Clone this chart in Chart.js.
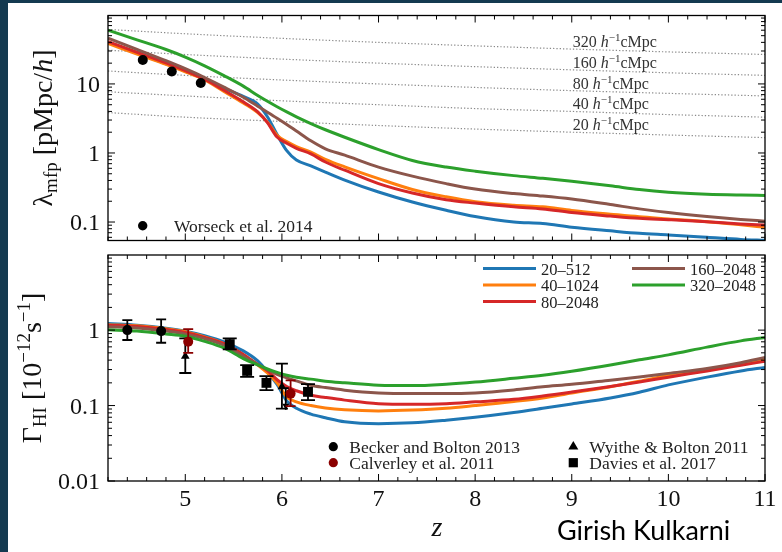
<!DOCTYPE html>
<html lang="pt-BR">
<head>
<meta charset="utf-8">
<title>Livre caminho médio e taxa de fotoionização</title>
<script src="https://cdn.jsdelivr.net/npm/chart.js@4.4.1/dist/chart.umd.min.js"></script>
<style>
  html, body { margin: 0; padding: 0; }
  body { width: 782px; height: 552px; background: #143a50; position: relative; overflow: hidden; }
  #folha { position: absolute; left: 8px; top: 3px; width: 774px; height: 549px; background: #fff; }
  canvas { position: absolute; left: 0; top: 0; }
</style>
</head>
<body>
<div id="folha"></div>
<canvas id="grafTopo" width="782" height="552"></canvas>
<canvas id="grafBase" width="782" height="552"></canvas>
<script>
/* --- Grade de redshift das simulações --- */
const zModelo = [4.2, 4.5, 4.8, 5.0, 5.2, 5.4, 5.6, 5.75, 5.85, 5.95, 6.05, 6.15, 6.3, 6.45, 6.65,
                 7.0, 7.35, 7.7, 8.0, 8.4, 8.7, 9.0, 9.4, 9.7, 10.0, 10.4, 10.75, 11.0];

const rotulosSim = ["20–512", "40–1024", "80–2048", "160–2048", "320–2048"];

/* --- Livre caminho médio (pMpc/h) --- */
const lambda20_512   = [40, 27.8, 19.6, 15.3, 11.8, 8.7, 6.6, 5.1, 3.35, 1.85, 1.08, 0.79, 0.65, 0.53, 0.405,
                        0.272, 0.195, 0.148, 0.12, 0.10, 0.095, 0.084, 0.0745, 0.0686, 0.065, 0.0601, 0.056, 0.0545];
const lambda40_1024  = [38.5, 27, 19.2, 15.0, 11.4, 7.8, 5.3, 3.85, 2.8, 1.80, 1.46, 1.24, 1.03, 0.81, 0.63,
                        0.425, 0.296, 0.232, 0.197, 0.175, 0.166, 0.147, 0.13, 0.119, 0.111, 0.101, 0.091, 0.084];
const lambda80_2048  = [41, 28.8, 20.2, 15.6, 11.7, 8.1, 5.5, 3.93, 2.75, 1.70, 1.38, 1.17, 0.97, 0.74, 0.563,
                        0.36, 0.263, 0.21, 0.188, 0.166, 0.155, 0.137, 0.122, 0.113, 0.108, 0.101, 0.094, 0.0905];
const lambda160_2048 = [46, 31.7, 21.7, 16.6, 12.4, 9.0, 6.4, 4.75, 3.9, 3.19, 2.59, 2.08, 1.5, 1.15, 0.93,
                        0.625, 0.462, 0.36, 0.30, 0.258, 0.238, 0.215, 0.179, 0.155, 0.137, 0.12, 0.109, 0.103];
const lambda320_2048 = [60, 43.5, 31.5, 24.5, 18.3, 13.2, 9.3, 6.8, 5.6, 4.67, 3.93, 3.34, 2.67, 2.17, 1.69,
                        1.12, 0.78, 0.625, 0.545, 0.47, 0.43, 0.39, 0.335, 0.295, 0.27, 0.253, 0.246, 0.243];

/* --- Comprimentos comóveis fixos (linhas pontilhadas) --- */
const zPontilhado = [4.2, 5, 6, 7, 8, 9, 10, 11];
const comovel320 = [61.5, 53.3, 45.7, 40.0, 35.6, 32.0, 29.1, 26.7];
const comovel160 = [30.8, 26.7, 22.9, 20.0, 17.8, 16.0, 14.5, 13.3];
const comovel80  = [15.4, 13.3, 11.4, 10.0, 8.9, 8.0, 7.3, 6.7];
const comovel40  = [7.7, 6.7, 5.7, 5.0, 4.4, 4.0, 3.6, 3.3];
const comovel20  = [3.85, 3.3, 2.86, 2.5, 2.22, 2.0, 1.82, 1.67];
const rotulosComovel = ["320", "160", "80", "40", "20"];

/* --- Worseck et al. 2014 --- */
const zWorseck = [4.56, 4.86, 5.16];
const lambdaWorseck = [22.2, 15.1, 10.3];

/* --- Taxa de fotoionização (10^-12 s^-1) --- */
const gama20_512   = [1.22, 1.16, 1.06, 0.97, 0.845, 0.70, 0.53, 0.39, 0.28, 0.19, 0.115, 0.092, 0.077, 0.069, 0.061,
                      0.0576, 0.059, 0.064, 0.070, 0.081, 0.092, 0.105, 0.126, 0.150, 0.188, 0.238, 0.287, 0.32];
const gama40_1024  = [1.18, 1.14, 1.04, 0.95, 0.81, 0.66, 0.47, 0.345, 0.27, 0.20, 0.13, 0.112, 0.10, 0.093, 0.088,
                      0.085, 0.087, 0.092, 0.10, 0.113, 0.126, 0.147, 0.178, 0.21, 0.25, 0.30, 0.36, 0.41];
const gama80_2048  = [1.16, 1.12, 1.02, 0.93, 0.80, 0.66, 0.475, 0.35, 0.29, 0.22, 0.178, 0.157, 0.137, 0.128, 0.118,
                      0.106, 0.104, 0.106, 0.112, 0.121, 0.134, 0.151, 0.179, 0.205, 0.238, 0.288, 0.342, 0.387];
const gama160_2048 = [1.11, 1.07, 0.97, 0.885, 0.77, 0.63, 0.45, 0.35, 0.30, 0.26, 0.233, 0.212, 0.186, 0.173, 0.16,
                      0.147, 0.144, 0.144, 0.147, 0.161, 0.177, 0.191, 0.217, 0.239, 0.267, 0.31, 0.37, 0.434];
const gama320_2048 = [1.01, 0.97, 0.89, 0.83, 0.71, 0.58, 0.42, 0.345, 0.305, 0.275, 0.252, 0.237, 0.224, 0.21, 0.20,
                      0.186, 0.184, 0.192, 0.205, 0.23, 0.252, 0.285, 0.345, 0.405, 0.47, 0.595, 0.72, 0.80];

/* --- Medidas observacionais de Gamma_HI --- */
const zBecker = [4.4, 4.75];
const gamaBecker = [1.0, 0.97];
const gamaBeckerAlto = [1.36, 1.39];
const gamaBeckerBaixo = [0.74, 0.68];

const zCalverley = [5.03, 6.09];
const gamaCalverley = [0.70, 0.144];
const gamaCalverleyAlto = [1.03, 0.216];
const gamaCalverleyBaixo = [0.50, 0.098];

const zWyithe = [5.0, 6.0];
const gamaWyithe = [0.45, 0.177];
const gamaWyitheAlto = [0.775, 0.36];
const gamaWyitheBaixo = [0.27, 0.091];

const zDavies = [5.46, 5.64, 5.84, 6.27];
const gamaDavies = [0.652, 0.288, 0.20, 0.152];
const gamaDaviesAlto = [0.775, 0.343, 0.245, 0.192];
const gamaDaviesBaixo = [0.554, 0.24, 0.16, 0.118];

// limite superior perto de z = 6
const zLimite = [6.04];
const gamaLimiteAlto = [0.17];
const gamaLimiteBaixo = [0.088];

/* --- Eixos --- */
const ticksX = [5, 6, 7, 8, 9, 10, 11];
const rotulosX = ["5", "6", "7", "8", "9", "10", "11"];
const ticksYTopo = [0.1, 1, 10];
const rotulosYTopo = ["0.1", "1", "10"];
const ticksYBase = [0.01, 0.1, 1];
const rotulosYBase = ["0.01", "0.1", "1"];

const SERIF = '"Liberation Serif", "Times New Roman", serif';
const cores = ["#1f77b4", "#ff7f0e", "#d62728", "#8c564b", "#2ca02c"];
const VINHO = "#8b0000";

const pares = (xs, ys) => xs.map((x, i) => ({ x, y: ys[i] }));

function ticksLog(min, max) {
  const lista = [];
  for (let d = Math.floor(Math.log10(min)); d <= Math.ceil(Math.log10(max)); d++) {
    for (let m = 1; m <= 9; m++) {
      const v = m * Math.pow(10, d);
      if (v >= min && v <= max) lista.push({ v, maior: m === 1 });
    }
  }
  return lista;
}

// escreve texto composto (subscritos, sobrescritos, itálico) em sequência
function desenhaPartes(ctx, partes, x, y, centro) {
  let total = 0;
  partes.forEach(p => { ctx.font = p.f; p.w = ctx.measureText(p.t).width; total += p.w; });
  let cx = centro ? x - total / 2 : x;
  ctx.textAlign = "left";
  ctx.textBaseline = "alphabetic";
  partes.forEach(p => {
    ctx.font = p.f;
    ctx.fillText(p.t, cx, y + (p.dy || 0));
    cx += p.w;
  });
}

function marcador(ctx, tipo, x, y, r, cor) {
  ctx.fillStyle = cor;
  ctx.beginPath();
  if (tipo === "circle") {
    ctx.arc(x, y, r, 0, Math.PI * 2);
  } else if (tipo === "triangle") {
    ctx.moveTo(x, y - r);
    ctx.lineTo(x + r * 0.87, y + r * 0.5);
    ctx.lineTo(x - r * 0.87, y + r * 0.5);
    ctx.closePath();
  } else {
    ctx.rect(x - r, y - r, 2 * r, 2 * r);
  }
  ctx.fill();
}

/* --- Plugin: moldura, ticks para dentro, rótulos e barras de erro --- */
function pluginPainel(cfg) {
  return {
    id: "painel",
    beforeDatasetDraw(chart, args) {
      const ds = chart.data.datasets[args.index];
      if (!ds.erros) return;
      const { ctx, scales: { x, y } } = chart;
      const e = ds.erros;
      ctx.save();
      ctx.strokeStyle = e.cor;
      ctx.fillStyle = e.cor;
      ctx.lineWidth = 1.8;
      ds.data.forEach((p, i) => {
        const px = x.getPixelForValue(p.x);
        const yA = y.getPixelForValue(e.alto[i]);
        const yB = y.getPixelForValue(e.baixo[i]);
        ctx.beginPath();
        ctx.moveTo(px, yA); ctx.lineTo(px, yB);
        ctx.moveTo(px - e.cap, yA); ctx.lineTo(px + e.cap, yA);
        if (!e.seta) { ctx.moveTo(px - e.cap, yB); ctx.lineTo(px + e.cap, yB); }
        ctx.stroke();
        if (e.seta) {
          ctx.beginPath();
          ctx.moveTo(px - 3.5, yB - 6); ctx.lineTo(px + 3.5, yB - 6); ctx.lineTo(px, yB);
          ctx.closePath();
          ctx.fill();
        }
      });
      ctx.restore();
    },
    afterDraw(chart) {
      const { ctx, chartArea: a, scales: { x, y } } = chart;
      ctx.save();
      ctx.strokeStyle = "#000";
      ctx.lineWidth = 1.3;
      ctx.strokeRect(a.left, a.top, a.right - a.left, a.bottom - a.top);
      ctx.lineWidth = 1;
      ctx.beginPath();
      for (let k = 21; k <= 55; k++) {
        const px = x.getPixelForValue(k / 5);
        const t = k % 5 === 0 ? 7 : 4;
        ctx.moveTo(px, a.bottom); ctx.lineTo(px, a.bottom - t);
        ctx.moveTo(px, a.top); ctx.lineTo(px, a.top + t);
      }
      ticksLog(y.min, y.max).forEach(({ v, maior }) => {
        const py = y.getPixelForValue(v);
        const t = maior ? 7 : 4;
        ctx.moveTo(a.left, py); ctx.lineTo(a.left + t, py);
        ctx.moveTo(a.right, py); ctx.lineTo(a.right - t, py);
      });
      ctx.stroke();

      ctx.fillStyle = "#111";
      ctx.font = `24px ${SERIF}`;
      ctx.textAlign = "right";
      ctx.textBaseline = "alphabetic";
      cfg.yTicks.forEach((v, i) => ctx.fillText(cfg.yRotulos[i], a.left - 8, y.getPixelForValue(v) + 8));
      if (cfg.comX) {
        ctx.textAlign = "center";
        ticksX.forEach((v, i) => ctx.fillText(rotulosX[i], x.getPixelForValue(v), a.bottom + 25));
      }

      // título do eixo y, girado
      ctx.save();
      ctx.translate(cfg.tituloX, (a.top + a.bottom) / 2);
      ctx.rotate(-Math.PI / 2);
      desenhaPartes(ctx, cfg.titulo, 0, 0, true);
      ctx.restore();

      cfg.extra(ctx, chart);
      ctx.restore();
    }
  };
}

const fT = `28px ${SERIF}`, fTi = `italic 28px ${SERIF}`, fTs = `19px ${SERIF}`;

function criaGrafico(id, padding, yMin, yMax, datasets, cfg) {
  return new Chart(document.getElementById(id), {
    type: "line",
    data: { datasets },
    options: {
      responsive: false,
      devicePixelRatio: 1,
      animation: false,
      layout: { padding },
      scales: {
        x: { type: "linear", min: 4.2, max: 11, display: false },
        y: { type: "logarithmic", min: yMin, max: yMax, display: false }
      },
      plugins: { legend: { display: false }, tooltip: { enabled: false } }
    },
    plugins: [pluginPainel(cfg)]
  });
}

function linhaSim(zs, valores, i) {
  return {
    data: pares(zs, valores),
    borderColor: cores[i],
    borderWidth: 3,
    pointRadius: 0,
    fill: false,
    cubicInterpolationMode: "monotone",
    borderJoinStyle: "round",
    order: 5 - i
  };
}

function linhaPontilhada(valores) {
  return {
    data: pares(zPontilhado, valores),
    borderColor: "#8a8a8a",
    borderWidth: 1.2,
    borderDash: [1.3, 2],
    pointRadius: 0,
    fill: false,
    cubicInterpolationMode: "monotone",
    order: 10
  };
}

function pontos(zs, valores, estilo, raio, cor, erros) {
  return {
    data: pares(zs, valores),
    showLine: false,
    pointStyle: estilo,
    pointRadius: raio,
    pointBorderWidth: 0,
    backgroundColor: cor,
    borderColor: cor,
    order: -1,
    erros
  };
}

/* --- Painel de cima: lambda_mfp --- */
const comoveis = [comovel320, comovel160, comovel80, comovel40, comovel20];
const simsTopo = [lambda20_512, lambda40_1024, lambda80_2048, lambda160_2048, lambda320_2048];

criaGrafico("grafTopo", { left: 108, top: 15.5, right: 17, bottom: 311.5 }, 0.054, 98, [
  ...comoveis.map(linhaPontilhada),
  ...simsTopo.map((v, i) => linhaSim(zModelo, v, i)),
  pontos(zWorseck, lambdaWorseck, "circle", 5, "#000")
], {
  yTicks: ticksYTopo,
  yRotulos: rotulosYTopo,
  comX: false,
  tituloX: 52,
  titulo: [
    { t: "λ", f: fT }, { t: "mfp", f: fTs, dy: 5 }, { t: " [pMpc/", f: fT }, { t: "h", f: fTi }, { t: "]", f: fT }
  ],
  extra(ctx, chart) {
    const { x, y } = chart.scales;
    const i9 = zPontilhado.indexOf(9);
    ctx.fillStyle = "#333";
    comoveis.forEach((serie, k) => {
      const py = y.getPixelForValue(serie[i9]) - 2;
      desenhaPartes(ctx, [
        { t: rotulosComovel[k] + " ", f: `16px ${SERIF}` },
        { t: "h", f: `italic 16px ${SERIF}` },
        { t: "−1", f: `11px ${SERIF}`, dy: -6 },
        { t: "cMpc", f: `16px ${SERIF}` }
      ], x.getPixelForValue(9) + 1, py, false);
    });
    marcador(ctx, "circle", 142.7, 225.7, 4.7, "#000");
    ctx.fillStyle = "#222";
    ctx.font = `17.5px ${SERIF}`;
    ctx.textAlign = "left";
    ctx.textBaseline = "alphabetic";
    ctx.fillText("Worseck et al. 2014", 174, 231.5);
  }
});

/* --- Painel de baixo: Gamma_HI --- */
const simsBase = [gama20_512, gama40_1024, gama80_2048, gama160_2048, gama320_2048];

criaGrafico("grafBase", { left: 108, top: 255, right: 17, bottom: 71 }, 0.01, 9.9, [
  ...simsBase.map((v, i) => linhaSim(zModelo, v, i)),
  pontos(zBecker, gamaBecker, "circle", 5, "#000", { alto: gamaBeckerAlto, baixo: gamaBeckerBaixo, cor: "#000", cap: 5 }),
  pontos(zCalverley, gamaCalverley, "circle", 5, VINHO, { alto: gamaCalverleyAlto, baixo: gamaCalverleyBaixo, cor: VINHO, cap: 5 }),
  pontos(zWyithe, gamaWyithe, "triangle", 5, "#000", { alto: gamaWyitheAlto, baixo: gamaWyitheBaixo, cor: "#000", cap: 6 }),
  pontos(zDavies, gamaDavies, "rect", 7, "#000", { alto: gamaDaviesAlto, baixo: gamaDaviesBaixo, cor: "#000", cap: 7 }),
  pontos(zLimite, gamaLimiteAlto, "circle", 0, "#000", { alto: gamaLimiteAlto, baixo: gamaLimiteBaixo, cor: "#000", cap: 3, seta: true })
], {
  yTicks: ticksYBase,
  yRotulos: rotulosYBase,
  comX: true,
  tituloX: 41,
  titulo: [
    { t: "Γ", f: fT }, { t: "HI", f: fTs, dy: 5 }, { t: " [10", f: fT }, { t: "−12", f: fTs, dy: -11 },
    { t: "s", f: fT }, { t: "−1", f: fTs, dy: -11 }, { t: "]", f: fT }
  ],
  extra(ctx) {
    // legenda das simulações em duas colunas
    const posLeg = [[483, 268.5], [483, 285], [483, 301.5], [632, 268.5], [632, 285]];
    ctx.lineWidth = 3;
    ctx.font = `16.5px ${SERIF}`;
    ctx.textAlign = "left";
    ctx.textBaseline = "alphabetic";
    rotulosSim.forEach((r, i) => {
      const [lx, ly] = posLeg[i];
      ctx.strokeStyle = cores[i];
      ctx.beginPath();
      ctx.moveTo(lx, ly); ctx.lineTo(lx + 53, ly);
      ctx.stroke();
      ctx.fillStyle = "#222";
      ctx.fillText(r, lx + 58, ly + 6);
    });

    // legenda das observações
    const obs = [
      ["circle", 333.3, 446.7, 4.6, "#000", "Becker and Bolton 2013"],
      ["circle", 333.3, 462.7, 4.6, VINHO, "Calverley et al. 2011"],
      ["triangle", 573.3, 446.7, 5.8, "#000", "Wyithe & Bolton 2011"],
      ["rect", 573.3, 462.7, 4.6, "#000", "Davies et al. 2017"]
    ];
    ctx.font = `17.5px ${SERIF}`;
    obs.forEach(([tipo, mx, my, r, cor, texto]) => {
      marcador(ctx, tipo, mx, my, r, cor);
      ctx.fillStyle = "#222";
      ctx.fillText(texto, mx + 16, my + 6);
    });

    ctx.fillStyle = "#111";
    ctx.font = `italic 28px ${SERIF}`;
    ctx.textAlign = "center";
    ctx.fillText("z", 437, 536);

    ctx.fillStyle = "#000";
    ctx.font = '27px Lato, "Open Sans", sans-serif';
    ctx.textAlign = "left";
    ctx.fillText("Girish Kulkarni", 557, 540);
  }
});
</script>
</body>
</html>
